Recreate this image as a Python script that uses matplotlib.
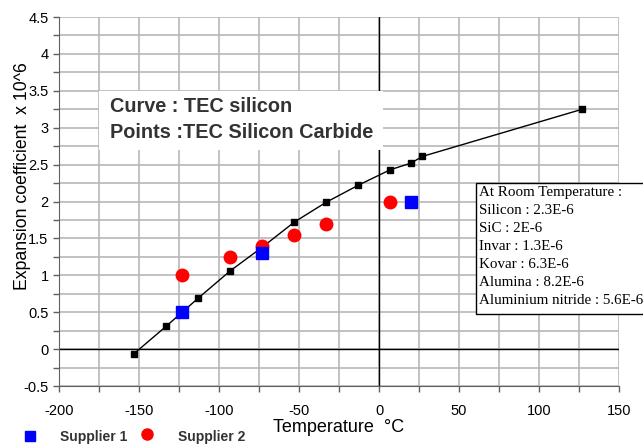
import numpy as np
import matplotlib.pyplot as plt
from matplotlib.ticker import MultipleLocator

# silicon TEC curve
temp_si = [-153, -133, -113, -93, -73, -53, -33, -13, 7, 20, 27, 127]
tec_si = [-0.06, 0.31, 0.69, 1.06, 1.38, 1.72, 1.99, 2.22, 2.43, 2.52, 2.61, 3.25]

# SiC points
temp_s1 = [-123, -73, 20]
tec_s1 = [0.5, 1.3, 2.0]
temp_s2 = [-123, -93, -73, -53, -33, 7]
tec_s2 = [1.0, 1.25, 1.4, 1.55, 1.7, 2.0]

room_text = ["At Room Temperature :", "Silicon : 2.3E-6", "SiC : 2E-6",
             "Invar : 1.3E-6", "Kovar : 6.3E-6", "Alumina : 8.2E-6",
             "Aluminium nitride : 5.6E-6"]

plt.rcParams['font.family'] = ['Liberation Sans', 'DejaVu Sans']
plt.rcParams['axes.unicode_minus'] = False

fig = plt.figure(figsize=(6.43, 4.44), dpi=100)
ax = fig.add_axes([59/643, 58/444, 560/643, 369/444])

ax.set_xlim(-200, 150)
ax.set_ylim(-0.5, 4.5)
ax.xaxis.set_major_locator(MultipleLocator(50))
ax.xaxis.set_minor_locator(MultipleLocator(25))
ax.yaxis.set_major_locator(MultipleLocator(0.5))
ax.yaxis.set_minor_locator(MultipleLocator(0.25))
ax.grid(which='both', color='#b8b8b8', lw=1.2)
ax.set_axisbelow(True)
for s in ['top', 'right']:
    ax.spines[s].set_visible(False)
for s in ['left', 'bottom']:
    ax.spines[s].set_color('#606060')
ax.tick_params(which='both', direction='out', length=4, color='#606060', labelsize=10.5, width=1)
ax.tick_params(axis='x', pad=9)
ax.set_yticks(np.arange(-0.5, 4.51, 0.5))
ax.set_yticklabels([('%g' % v) for v in np.arange(-0.5, 4.51, 0.5)])

ax.axhline(0, color='black', lw=1)
ax.axvline(0, color='black', lw=1)

ax.plot(temp_si, tec_si, color='black', lw=1, marker='s', ms=4.5, zorder=3)
ax.plot(temp_s2, tec_s2, 'o', color='#ff0000', ms=9, zorder=4, label='Supplier 2')
ax.plot(temp_s1, tec_s1, 's', color='#0000ff', ms=9, zorder=5, label='Supplier 1')

ax.set_xlabel('Temperature  °C', fontsize=13, labelpad=1)
ax.set_ylabel('Expansion coefficient  x 10^6', fontsize=12.7)
ax.yaxis.set_label_coords(-0.05, 0.57)

# title box
fig.patches.append(plt.Rectangle((99/643, 1-150/444), 284/643, 59/444,
                                 transform=fig.transFigure, facecolor='white',
                                 edgecolor='none', zorder=2))
fig.text(110/643, 1-107/444, 'Curve : TEC silicon', fontsize=14.3, fontweight='bold',
         color='#333333', va='center', zorder=3)
fig.text(110/643, 1-132/444, 'Points :TEC Silicon Carbide', fontsize=14.3, fontweight='bold',
         color='#333333', va='center', zorder=3)

# room temperature box
fig.patches.append(plt.Rectangle((476/643, 1-314/444), 170/643, 131/444,
                                 transform=fig.transFigure, facecolor='white',
                                 edgecolor='black', lw=1, zorder=2))
for i, t in enumerate(room_text):
    fig.text(479/643, 1-(192 + 18*i)/444, t, fontsize=10.8, family='Liberation Serif',
             va='center', zorder=3)

# legend at bottom
fig.lines.append(plt.Line2D([30/643], [1-436/444], marker='s', ms=7.5, color='#0000ff',
                            transform=fig.transFigure))
fig.text(60/643, 1-437/444, 'Supplier 1', fontsize=10, fontweight='bold',
         color='#333333', va='center')
fig.lines.append(plt.Line2D([147/643], [1-434/444], marker='o', ms=8, color='#ff0000',
                            transform=fig.transFigure))
fig.text(178/643, 1-437/444, 'Supplier 2', fontsize=10, fontweight='bold',
         color='#333333', va='center')

fig.savefig('out.png', dpi=100)
